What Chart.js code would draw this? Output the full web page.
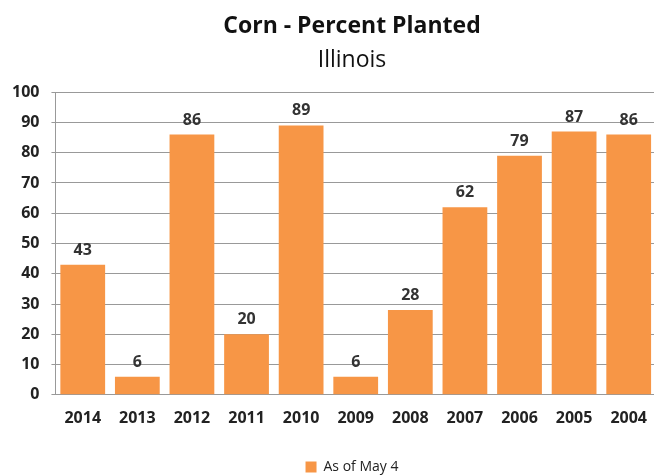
<!DOCTYPE html>
<html>
<head>
<meta charset="utf-8">
<script src="https://cdn.jsdelivr.net/npm/chart.js@4"></script>
<style>
  html, body { margin: 0; padding: 0; background: #fff; overflow: hidden; }
  #wrap { position: absolute; left: 0; top: 0; width: 704px; height: 475px; }
</style>
</head>
<body>
<div id="wrap"><canvas id="myChart"></canvas></div>
<script>
var years = ['2014', '2013', '2012', '2011', '2010', '2009', '2008', '2007', '2006', '2005', '2004'];
var planted = [43, 6, 86, 20, 89, 6, 28, 62, 79, 87, 86];
var yTicks = [0, 10, 20, 30, 40, 50, 60, 70, 80, 90, 100];

var fontFace = '"Open Sans", Lato, sans-serif';

// draw the value over each bar
var valueLabels = {
  id: 'valueLabels',
  afterDatasetsDraw: function(chart) {
    var ctx = chart.ctx;
    ctx.save();
    ctx.font = 'bold 16px ' + fontFace;
    ctx.fillStyle = '#333';
    ctx.textAlign = 'center';
    ctx.textBaseline = 'alphabetic';
    chart.getDatasetMeta(0).data.forEach(function(bar, i) {
      ctx.fillText(planted[i], bar.x, bar.y - 10);
    });
    ctx.restore();
  }
};

window.onload = function() {
  var ctx = document.getElementById('myChart').getContext('2d');
  var chart = new Chart(ctx, {
    type: 'bar',
    data: {
      labels: years,
      datasets: [{
        label: 'As of May 4',
        data: planted,
        backgroundColor: '#F79646',
        borderWidth: 0,
        categoryPercentage: 1,
        barPercentage: 0.82
      }]
    },
    options: {
      responsive: true,
      maintainAspectRatio: false,
      animation: false,
      layout: { padding: { left: 0, right: 0, top: 11, bottom: -9 } },
      plugins: {
        title: {
          display: true,
          text: 'Corn - Percent Planted',
          color: '#111',
          font: { family: fontFace, size: 23, weight: 'bold' },
          padding: { top: 2, bottom: 2 }
        },
        subtitle: {
          display: true,
          text: 'Illinois',
          color: '#111',
          font: { family: fontFace, size: 23 },
          padding: { top: 4, bottom: 18 }
        },
        legend: {
          position: 'bottom',
          labels: {
            boxWidth: 11,
            boxHeight: 11,
            color: '#222',
            font: { family: fontFace, size: 14 },
            padding: 14
          }
        },
        tooltip: { enabled: false }
      },
      scales: {
        x: {
          grid: { display: false },
          border: { color: '#999' },
          ticks: { color: '#222', font: { family: fontFace, size: 16, weight: 'bold' }, padding: 6 },
          afterFit: function(axis) { axis.height += 12; }
        },
        y: {
          min: 0,
          max: 100,
          afterBuildTicks: function(axis) {
            axis.ticks = yTicks.map(function(v) { return { value: v }; });
          },
          grid: { color: '#999', tickLength: 4 },
          border: { color: '#999' },
          ticks: { color: '#222', font: { family: fontFace, size: 16, weight: 'bold' }, padding: 12 }
        },
        // empty right-hand axis, only reserves the space cut off at the right edge
        yRight: {
          position: 'right',
          min: 0,
          max: 100,
          grid: { display: false },
          border: { display: false },
          ticks: { display: false },
          afterFit: function(axis) { axis.width = 48; }
        }
      }
    },
    plugins: [valueLabels]
  });
};
</script>
</body>
</html>
